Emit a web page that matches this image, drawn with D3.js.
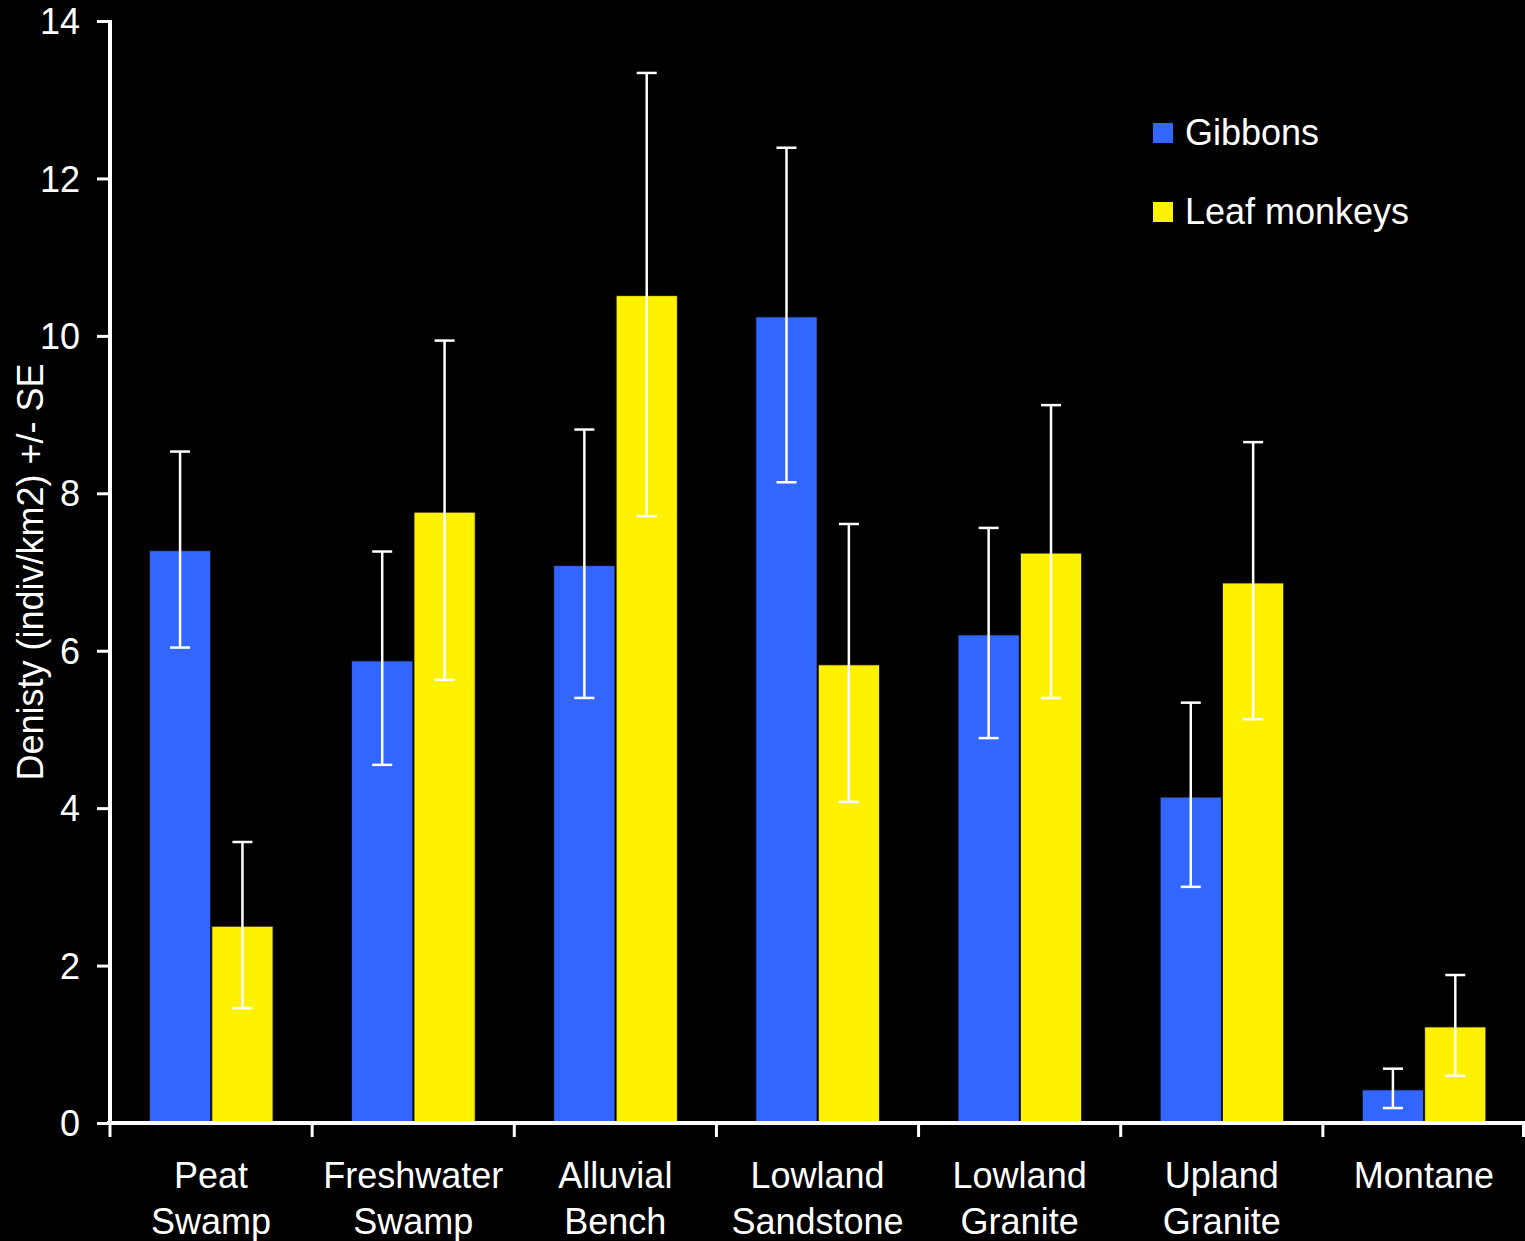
<!DOCTYPE html>
<html>
<head>
<meta charset="utf-8">
<script src="https://cdn.jsdelivr.net/npm/d3@7"></script>
<style>
  html, body { margin: 0; padding: 0; background: #000; }
  svg { display: block; }
  text { font-family: "Liberation Sans", Arial, sans-serif; fill: #fff; }
</style>
</head>
<body>
<svg id="chart" width="1525" height="1241"></svg>
<script>
// Habitat types along the x axis (two-line labels)
const categories = [
  ["Peat", "Swamp"],
  ["Freshwater", "Swamp"],
  ["Alluvial", "Bench"],
  ["Lowland", "Sandstone"],
  ["Lowland", "Granite"],
  ["Upland", "Granite"],
  ["Montane"]
];
const seriesNames = ["Gibbons", "Leaf monkeys"];
const seriesColors = ["#3366ff", "#fff200"];

// Mean density per habitat
const gibbons      = [7.27, 5.87, 7.08, 10.24, 6.20, 4.14, 0.42];
const leafMonkeys  = [2.50, 7.76, 10.51, 5.82, 7.24, 6.86, 1.22];
// Error bar ends (mean +/- SE)
const gibbonsHigh  = [8.53, 7.26, 8.81, 12.39, 7.56, 5.34, 0.69];
const gibbonsLow   = [6.04, 4.55, 5.40, 8.14, 4.89, 3.00, 0.19];
const leafHigh     = [3.57, 9.94, 13.34, 7.61, 9.12, 8.65, 1.88];
const leafLow      = [1.46, 5.63, 7.71, 4.08, 5.40, 5.13, 0.60];

const yTicks = [0, 2, 4, 6, 8, 10, 12, 14];

const svg = d3.select("#chart");
const plotLeft = 110, plotRight = 1525, plotTop = 21, plotBottom = 1123;
const fontSize = "36px";

const catKeys = categories.map(c => c.join(" "));
const x0 = d3.scaleBand().domain(catKeys).range([plotLeft, plotRight]).padding(0);
const x1 = d3.scaleBand().domain(seriesNames).range([39.5, 163]).paddingInner(0.02);
const y = d3.scaleLinear().domain([0, 14]).range([plotBottom, plotTop]);

const rows = catKeys.map((k, i) => ({
  key: k,
  vals: [
    { s: seriesNames[0], v: gibbons[i], hi: gibbonsHigh[i], lo: gibbonsLow[i], c: seriesColors[0] },
    { s: seriesNames[1], v: leafMonkeys[i], hi: leafHigh[i], lo: leafLow[i], c: seriesColors[1] }
  ]
}));

// Bars
const groups = svg.append("g").selectAll("g").data(rows).join("g")
  .attr("transform", d => `translate(${x0(d.key)},0)`);

groups.selectAll("rect").data(d => d.vals).join("rect")
  .attr("x", d => x1(d.s))
  .attr("width", x1.bandwidth())
  .attr("y", d => y(d.v))
  .attr("height", d => y(0) - y(d.v))
  .attr("fill", d => d.c)
  .attr("stroke", "#111")
  .attr("stroke-width", 0.8);

// Error bars
const capHalf = 10;
const eb = groups.selectAll("g.err").data(d => d.vals).join("g").attr("class", "err")
  .attr("stroke", "#fff").attr("stroke-width", 2.5);
const cx = d => x1(d.s) + x1.bandwidth() / 2;
eb.append("line")
  .attr("x1", cx).attr("x2", cx)
  .attr("y1", d => y(d.hi)).attr("y2", d => y(d.lo));
eb.append("line")
  .attr("x1", d => cx(d) - capHalf).attr("x2", d => cx(d) + capHalf)
  .attr("y1", d => y(d.hi)).attr("y2", d => y(d.hi));
eb.append("line")
  .attr("x1", d => cx(d) - capHalf).attr("x2", d => cx(d) + capHalf)
  .attr("y1", d => y(d.lo)).attr("y2", d => y(d.lo));

// Y axis
const yAxis = svg.append("g")
  .attr("transform", `translate(${plotLeft},0)`)
  .call(d3.axisLeft(y).tickValues(yTicks).tickSize(13).tickPadding(17).tickSizeOuter(0));
yAxis.attr("font-size", null).attr("font-family", null);
yAxis.select(".domain").attr("stroke", "#fff").attr("stroke-width", 4)
  .attr("d", `M0,${plotTop - 1}V${plotBottom + 2}`);
yAxis.selectAll(".tick line").attr("stroke", "#fff").attr("stroke-width", 3);
yAxis.selectAll(".tick text")
  .attr("fill", "#fff").style("font-size", fontSize).attr("dy", "0.35em");

// X axis: ticks at band boundaries
const boundaries = catKeys.map(k => x0(k)).concat([plotRight]);
const xAxisG = svg.append("g");
xAxisG.append("line")
  .attr("x1", plotLeft - 3).attr("x2", plotRight).attr("y1", plotBottom).attr("y2", plotBottom)
  .attr("stroke", "#fff").attr("stroke-width", 4);
xAxisG.selectAll("line.tk").data(boundaries).join("line").attr("class", "tk")
  .attr("x1", d => Math.min(d, plotRight - 1.5)).attr("x2", d => Math.min(d, plotRight - 1.5))
  .attr("y1", plotBottom).attr("y2", plotBottom + 14)
  .attr("stroke", "#fff").attr("stroke-width", 3);

// Category labels
xAxisG.selectAll("text.cat").data(rows.map((r, i) => ({ key: r.key, lines: categories[i] })))
  .join("text").attr("class", "cat")
  .attr("text-anchor", "middle")
  .style("font-size", fontSize)
  .attr("x", d => x0(d.key) + x0.bandwidth() / 2)
  .attr("y", 1188)
  .selectAll("tspan").data(d => d.lines.map(l => ({ l, x: x0(d.key) + x0.bandwidth() / 2 })))
  .join("tspan")
  .attr("x", d => d.x)
  .attr("dy", (d, i) => i === 0 ? 0 : 46)
  .text(d => d.l);

// Y axis title
svg.append("text")
  .attr("transform", "translate(43,572) rotate(-90)")
  .attr("text-anchor", "middle")
  .style("font-size", fontSize)
  .text("Denisty (indiv/km2) +/- SE");

// Legend
const legend = svg.append("g").attr("transform", "translate(1153,123)");
const li = legend.selectAll("g").data(seriesNames).join("g")
  .attr("transform", (d, i) => `translate(0,${i * 79})`);
li.append("rect").attr("width", 20).attr("height", 20)
  .attr("fill", (d, i) => seriesColors[i]);
li.append("text").attr("x", 32).attr("y", 22)
  .style("font-size", fontSize)
  .text(d => d);
</script>
</body>
</html>
